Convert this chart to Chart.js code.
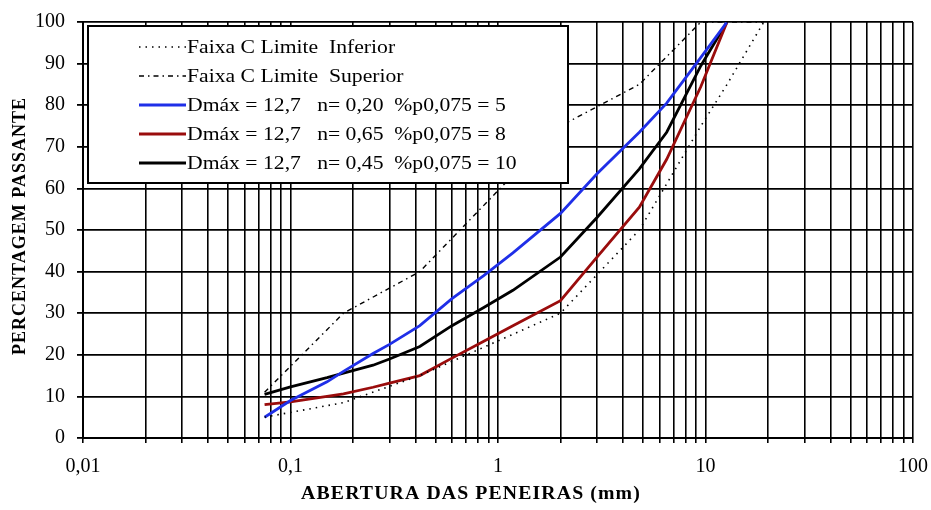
<!DOCTYPE html>
<html>
<head>
<meta charset="utf-8">
<script src="https://cdn.jsdelivr.net/npm/chart.js@4.4.1/dist/chart.umd.min.js"></script>
<style>
  html, body { margin: 0; padding: 0; background: #fff; }
  #wrap { width: 931px; height: 510px; }
</style>
</head>
<body>
<div id="wrap"><canvas id="c" width="931" height="510"></canvas></div>
<script>
// Sieve openings (mm) for the Faixa C envelope
const sieveLimits = [0.075, 0.18, 0.42, 2.0, 4.8, 9.5, 12.7, 19.1];
const limiteInferior = [5, 8.5, 15, 30, 50, 75, 85, 100];
const limiteSuperior = [11, 30, 40, 75, 85, 100, 100, 100];

// Sieve openings (mm) for the designed gradations
const sieveCurves = [0.075, 0.1, 0.15, 0.18, 0.25, 0.3, 0.42, 0.6, 0.85, 1.18, 2.0, 3.0, 4.8, 6.5, 9.5, 12.7];
const curvaN020 = [5, 9, 13.5, 16, 20.3, 22.5, 27, 33.5, 39, 44.5, 54, 63.5, 73.5, 80.5, 91.5, 100];
const curvaN065 = [8, 8.7, 10, 10.6, 12.2, 13.2, 15, 19.2, 23.2, 27, 33, 43.5, 55.5, 67, 84.5, 100];
const curvaN045 = [10.5, 12.3, 14.5, 15.6, 17.5, 19, 22, 27, 31.3, 35.5, 43.5, 53, 64.7, 73.5, 89.5, 100];

const seriesLabels = [
  'Faixa C Limite  Inferior',
  'Faixa C Limite  Superior',
  'Dmáx = 12,7   n= 0,20  %p0,075 = 5',
  'Dmáx = 12,7   n= 0,65  %p0,075 = 8',
  'Dmáx = 12,7   n= 0,45  %p0,075 = 10'
];

const xTickValues = [0.01, 0.1, 1, 10, 100];
const xTickLabels = ['0,01', '0,1', '1', '10', '100'];
const yTickValues = [0, 10, 20, 30, 40, 50, 60, 70, 80, 90, 100];

const xTitle = 'ABERTURA DAS PENEIRAS (mm)';
const yTitle = 'PERCENTAGEM PASSANTE';

// every 1..9 x 10^k line of the log grid
const logGrid = [];
for (let e = -2; e <= 1; e++) {
  for (let k = 1; k <= 9; k++) logGrid.push(Number((k * Math.pow(10, e)).toPrecision(6)));
}
logGrid.push(100);

const pairs = (xs, ys) => xs.map((x, i) => ({ x: x, y: ys[i] }));
const SERIF = '"Liberation Serif", "Times New Roman", serif';

const datasets = [
  { label: seriesLabels[0], data: pairs(sieveLimits, limiteInferior), borderColor: '#000', borderWidth: 1.6, borderDash: [1.5, 5] },
  { label: seriesLabels[1], data: pairs(sieveLimits, limiteSuperior), borderColor: '#000', borderWidth: 1.4, borderDash: [5, 4, 1.5, 4] },
  { label: seriesLabels[2], data: pairs(sieveCurves, curvaN020), borderColor: '#1f2fe8', borderWidth: 2.8 },
  { label: seriesLabels[3], data: pairs(sieveCurves, curvaN065), borderColor: '#9a0c0c', borderWidth: 2.8 },
  { label: seriesLabels[4], data: pairs(sieveCurves, curvaN045), borderColor: '#000', borderWidth: 2.8 }
];
datasets.forEach(d => { d.fill = false; d.pointRadius = 0; d.tension = 0; });

// text drawn slightly widened, as in the printed figure
function wideText(ctx, text, x, y, sx) {
  ctx.save();
  ctx.translate(x, y);
  ctx.scale(sx, 1);
  ctx.fillText(text, 0, 0);
  ctx.restore();
}

// legend box inside the plot and the two axis titles
const overlay = {
  id: 'overlay',
  afterDatasetsDraw(chart) {
    const ctx = chart.ctx;
    const a = chart.chartArea;
    const bx = a.left + 5, by = a.top + 4, bw = 480, bh = 157;
    ctx.save();
    ctx.fillStyle = '#fff';
    ctx.fillRect(bx, by, bw, bh);
    ctx.strokeStyle = '#000';
    ctx.lineWidth = 2;
    ctx.strokeRect(bx, by, bw, bh);
    ctx.font = '19px ' + SERIF;
    ctx.textBaseline = 'middle';
    ctx.textAlign = 'left';
    chart.data.datasets.forEach((ds, i) => {
      const yy = by + 21 + i * 29;
      ctx.beginPath();
      ctx.setLineDash(ds.borderDash || []);
      ctx.strokeStyle = ds.borderColor;
      ctx.lineWidth = ds.borderWidth;
      ctx.moveTo(bx + 51, yy);
      ctx.lineTo(bx + 98, yy);
      ctx.stroke();
      ctx.setLineDash([]);
      ctx.fillStyle = '#000';
      wideText(ctx, ds.label, bx + 99, yy + 1, 1.14);
    });
    ctx.restore();
  },
  afterDraw(chart) {
    const ctx = chart.ctx;
    ctx.save();
    ctx.fillStyle = '#000';
    ctx.font = 'bold 18px ' + SERIF;
    ctx.textAlign = 'center';
    ctx.textBaseline = 'middle';
    if ('letterSpacing' in ctx) ctx.letterSpacing = '1px';
    wideText(ctx, xTitle, 471, 494, 1.1);
    ctx.translate(20, 226);
    ctx.rotate(-Math.PI / 2);
    ctx.fillText(yTitle, 0, 0);
    ctx.restore();
  }
};

new Chart(document.getElementById('c'), {
  type: 'line',
  data: { datasets: datasets },
  plugins: [overlay],
  options: {
    responsive: false,
    animation: false,
    devicePixelRatio: 1,
    layout: { padding: { left: 0, right: 18, top: 22, bottom: 0 } },
    plugins: { legend: { display: false }, tooltip: { enabled: false } },
    scales: {
      x: {
        type: 'logarithmic',
        min: 0.01,
        max: 100,
        afterBuildTicks: s => { s.ticks = logGrid.map(v => ({ value: v })); },
        afterFit: s => { s.height = 72; s.paddingLeft = 0; s.paddingRight = 0; },
        grid: { color: '#000', lineWidth: 1.6, tickLength: 5, drawTicks: true },
        border: { color: '#000', width: 2 },
        ticks: {
          autoSkip: false,
          maxRotation: 0,
          padding: 12,
          color: '#000',
          font: { family: SERIF, size: 20 },
          callback: v => {
            const i = xTickValues.findIndex(t => Math.abs(Math.log10(t) - Math.log10(v)) < 1e-6);
            return i >= 0 ? xTickLabels[i] : '';
          }
        }
      },
      y: {
        min: 0,
        max: 100,
        afterBuildTicks: s => { s.ticks = yTickValues.map(v => ({ value: v })); },
        afterFit: s => { s.width = 83; s.paddingTop = 0; s.paddingBottom = 0; },
        grid: { color: '#000', lineWidth: 1.8, tickLength: 6, drawTicks: true },
        border: { color: '#000', width: 2 },
        ticks: {
          padding: 12,
          color: '#000',
          font: { family: SERIF, size: 20 }
        }
      }
    }
  }
});
</script>
</body>
</html>
